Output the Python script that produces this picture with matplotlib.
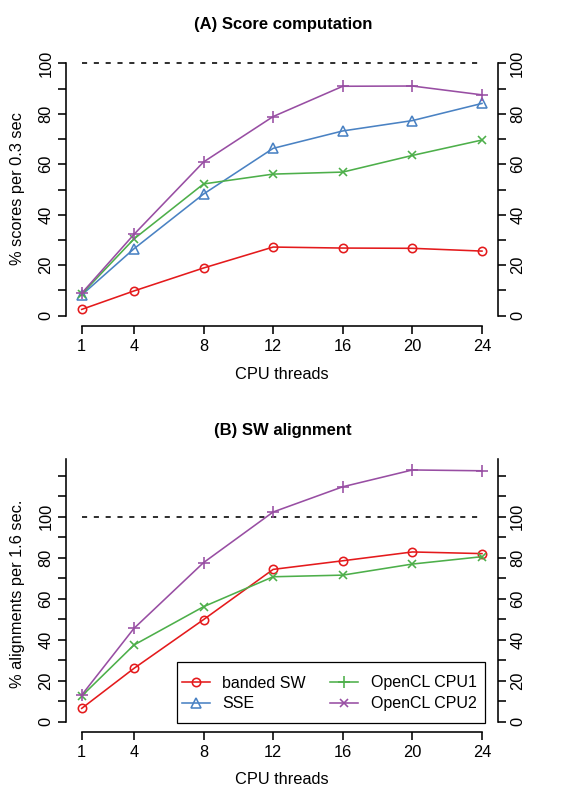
import matplotlib
matplotlib.use("Agg")
import matplotlib.pyplot as plt
from matplotlib.lines import Line2D
from matplotlib.patches import Rectangle

plt.rcParams['font.family'] = ['Liberation Sans', 'DejaVu Sans']

threads = [1, 4, 8, 12, 16, 20, 24]
xtick_labels = ["1", "4", "8", "12", "16", "20", "24"]

# Panel A: % scores per 0.3 sec
banded_a = [2.5, 9.8, 18.9, 27.2, 26.8, 26.7, 25.6]
sse_a = [8.2, 26.5, 48.2, 66.3, 73.2, 77.3, 84.1]
cpu1_a = [8.6, 30.4, 52.2, 56.1, 56.9, 63.5, 69.6]
cpu2_a = [8.9, 32.2, 60.9, 78.9, 90.9, 91.0, 87.5]

# Panel B: % alignments per 1.6 sec.
banded_b = [6.5, 26.0, 49.8, 74.3, 78.5, 82.8, 82.0]
cpu1_b = [12.5, 37.4, 56.1, 70.7, 71.5, 76.9, 80.5]
cpu2_b = [13.0, 45.5, 77.6, 102.3, 114.6, 122.8, 122.4]

series_names = ["banded SW", "SSE", "OpenCL CPU1", "OpenCL CPU2"]
RED, BLUE, GREEN, PURPLE = "#E41A1C", "#4A82C3", "#4DAF4A", "#984EA3"

W, H = 572, 789
fig = plt.figure(figsize=(W / 100, H / 100), dpi=100)

def px_axes(left, right, top, bottom):
    return fig.add_axes([left / W, 1 - bottom / H, (right - left) / W, (bottom - top) / H])

FS = 11.8
LW = 1.15

def style_axis(ax, ymin, ymax, ybound_top, major, minor):
    ax.set_xlim(0.08, 24.92)
    ax.set_ylim(ymin, ymax)
    ax.spines['top'].set_visible(False)
    for s in ['left', 'right', 'bottom']:
        ax.spines[s].set_linewidth(LW)
    ax.spines['left'].set_bounds(0, ybound_top)
    ax.spines['right'].set_bounds(0, ybound_top)
    ax.spines['bottom'].set_bounds(1, 24)
    ax.set_xticks(threads)
    ax.set_xticklabels(xtick_labels)
    ax.set_yticks(major)
    ax.set_yticklabels([str(v) for v in major])
    ax.set_yticks(minor, minor=True)
    ax.tick_params(axis='both', which='both', direction='out', length=5.8, width=LW,
                   labelsize=FS)
    ax.tick_params(axis='x', pad=4)
    ax.tick_params(axis='y', which='both', left=True, right=True, labelleft=True,
                   labelright=True, labelrotation=90)
    ax.tick_params(axis='y', which='major', pad=3)
    for t in ax.yaxis.get_major_ticks():
        t.label1.set_va('center')
        t.label2.set_va('center')
    ax.hlines(100, 1, 24, colors='black', linewidth=LW, linestyles=(0, (3.2, 4.2)))

circ = dict(marker='o', mfc='none', markersize=6, markeredgewidth=LW, linewidth=LW)
tri = dict(marker='^', mfc='none', markersize=7.5, markeredgewidth=LW, linewidth=LW)
plus = dict(marker='+', markersize=8, markeredgewidth=LW, linewidth=LW)
cross = dict(marker='x', markersize=6, markeredgewidth=LW, linewidth=LW)

# Panel A
axA = px_axes(65.7, 498, 53.2, 325.7)
style_axis(axA, -3.96, 104, 100, [0, 20, 40, 60, 80, 100], [10, 30, 50, 70, 90])
axA.plot(threads, banded_a, color=RED, **circ)
axA.plot(threads, sse_a, color=BLUE, **tri)
axA.plot(threads, cpu1_a, color=GREEN, **cross)
axA.plot(threads, cpu2_a, color=PURPLE, **plus)

# Panel B
axB = px_axes(65.7, 498, 455.2, 731.7)
style_axis(axB, -4.88, 130, 128, [0, 20, 40, 60, 80, 100], [10, 30, 50, 70, 90, 110, 120])
axB.plot(threads, banded_b, color=RED, **circ)
axB.plot(threads, cpu1_b, color=GREEN, **cross)
axB.plot(threads, cpu2_b, color=PURPLE, **plus)

handles = [
    Line2D([], [], color=RED, **circ),
    Line2D([], [], color=BLUE, **tri),
    Line2D([], [], color=GREEN, **plus),
    Line2D([], [], color=PURPLE, **cross),
]
axB.add_patch(Rectangle((176.7 / W, 1 - 723.3 / H), (485 - 176.7) / W, (723.3 - 661.7) / H,
                        transform=fig.transFigure, fill=True, facecolor='white',
                        edgecolor='black', linewidth=0.9, zorder=4, clip_on=False))
leg = axB.legend(handles, series_names, ncol=2, loc='upper left',
                 bbox_to_anchor=(181.7 / W, 1 - 675.5 / H), bbox_transform=fig.transFigure,
                 borderaxespad=0, fontsize=11.5, frameon=False,
                 handlelength=1.75, handletextpad=0.8, columnspacing=1.5,
                 borderpad=0, labelspacing=0.36)
leg.set_zorder(5)

# Titles and labels
fig.text(283.3 / W, 1 - 24.5 / H, "(A) Score computation", ha='center', va='center',
         fontsize=12, fontweight='bold')
fig.text(283.3 / W, 1 - 430 / H, "(B) SW alignment", ha='center', va='center',
         fontsize=12, fontweight='bold')
fig.text(281.7 / W, 1 - 375 / H, "CPU threads", ha='center', va='center', fontsize=FS)
fig.text(281.7 / W, 1 - 780 / H, "CPU threads", ha='center', va='center', fontsize=FS)
fig.text(18 / W, 1 - 189 / H, "% scores per 0.3 sec", ha='center', va='center',
         rotation=90, fontsize=FS)
fig.text(18 / W, 1 - 594 / H, "% alignments per 1.6 sec.", ha='center', va='center',
         rotation=90, fontsize=FS)

fig.savefig("out.png", dpi=100)
